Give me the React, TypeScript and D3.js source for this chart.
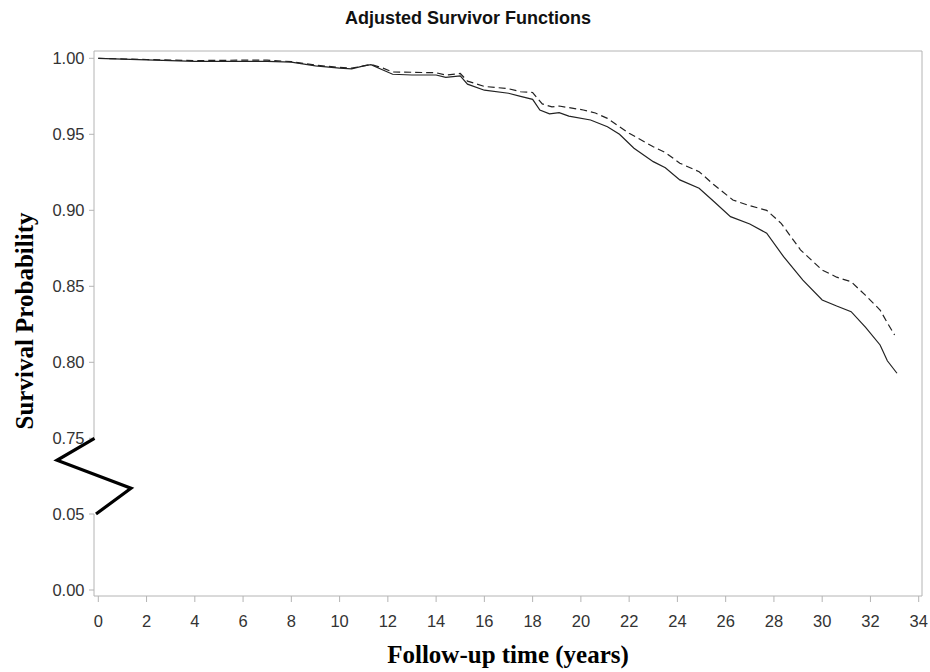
import React from "react";
import * as d3 from "d3";

const solidT = [0, 1, 2, 3, 4, 5, 6, 7, 8, 9, 10, 10.5, 11, 11.3, 11.7, 12.2, 13, 14, 14.4, 15, 15.3, 16, 17, 17.5, 18, 18.3, 18.7, 19.1, 19.5, 20.4, 21.1, 21.6, 22.2, 23.0, 23.5, 24.1, 24.9, 25.5, 26.2, 27.0, 27.7, 28.4, 29.2, 30.0, 30.6, 31.2, 31.8, 32.4, 32.7, 33.1];
const solidS = [1.0, 0.9995, 0.999, 0.9985, 0.998, 0.998, 0.998, 0.998, 0.9975, 0.995, 0.9935, 0.993, 0.995, 0.9958, 0.993, 0.9895, 0.989, 0.989, 0.9875, 0.9885, 0.983, 0.979, 0.977, 0.975, 0.973, 0.966, 0.9635, 0.9642, 0.962, 0.9594, 0.955, 0.95, 0.9408, 0.932, 0.928, 0.92, 0.9145, 0.906, 0.8958, 0.891, 0.8849, 0.8695, 0.854, 0.841, 0.837, 0.8333, 0.823, 0.8114, 0.801, 0.7928];

const dashT = [0, 2, 4, 6, 7, 8, 9, 10, 10.5, 11, 11.3, 11.8, 12.2, 13, 14, 14.4, 15, 15.3, 16, 17, 17.5, 18, 18.4, 18.8, 19.1, 20.1, 20.6, 21.1, 21.6, 22.0, 23.0, 23.5, 24.1, 24.9, 25.5, 26.3, 27.0, 27.7, 28.3, 29.1, 30.0, 30.6, 31.2, 31.8, 32.4, 32.7, 33.0];
const dashS = [1.0, 0.9992, 0.9985, 0.9988, 0.9988, 0.9978, 0.9955, 0.994, 0.9935, 0.995, 0.996, 0.9935, 0.991, 0.9908, 0.9905, 0.989, 0.99, 0.985, 0.9815, 0.98, 0.978, 0.9775, 0.97, 0.968, 0.9686, 0.966, 0.964, 0.9605, 0.955, 0.9507, 0.9418, 0.938, 0.931, 0.9254, 0.917, 0.9068, 0.903, 0.9, 0.8914, 0.874, 0.8607, 0.856, 0.853, 0.844, 0.8344, 0.826, 0.818];

const xTicks = [0, 2, 4, 6, 8, 10, 12, 14, 16, 18, 20, 22, 24, 26, 28, 30, 32, 34];
const yTicks = [0, 0.05, 0.75, 0.8, 0.85, 0.9, 0.95, 1.0];
const yTickLabels = ["0.00", "0.05", "0.75", "0.80", "0.85", "0.90", "0.95", "1.00"];

const W = 930, H = 672;
const frame = { left: 94, right: 922, top: 51, bottom: 596 };

export default function App() {
  const x = d3.scaleLinear().domain([0, 34]).range([98.3, 918.7]);
  const y = d3.scaleLinear().domain([0, 0.05, 0.75, 1.0]).range([590, 514, 438.3, 58.3]);
  const line = d3.line<[number, number]>().x(d => x(d[0])).y(d => y(d[1]));
  const solidPts = solidT.map((t, i) => [t, solidS[i]] as [number, number]);
  const dashPts = dashT.map((t, i) => [t, dashS[i]] as [number, number]);
  const yTop = y(0.75), yBot = y(0.05);
  const brk: [number, number][] = [
    [frame.left + 0.5, yTop],
    [frame.left - 37, yTop + (yBot - yTop) * 0.29],
    [frame.left + 37, yTop + (yBot - yTop) * 0.66],
    [frame.left + 2, yBot],
  ];
  const tickFont = "'Liberation Sans', Arial, sans-serif";
  const serif = "'Liberation Serif', 'Times New Roman', serif";
  const axisColor = "#b4b4b4";
  return (
    <svg width={W} height={H} style={{ display: "block", position: "absolute", left: 0, top: 0, background: "#fff" }}>
      <rect x={0} y={0} width={W} height={H} fill="#fff" />
      <text x={468} y={24} textAnchor="middle" fontFamily={tickFont} fontWeight="bold" fontSize={18} fill="#111">Adjusted Survivor Functions</text>
      {/* frame */}
      <line x1={frame.left} x2={frame.right} y1={frame.top} y2={frame.top} stroke={axisColor} />
      <line x1={frame.right} x2={frame.right} y1={frame.top} y2={frame.bottom} stroke={axisColor} />
      <line x1={frame.left} x2={frame.right} y1={frame.bottom} y2={frame.bottom} stroke={axisColor} />
      <line x1={frame.left} x2={frame.left} y1={frame.top} y2={yTop} stroke={axisColor} />
      <line x1={frame.left} x2={frame.left} y1={yBot} y2={frame.bottom} stroke={axisColor} />
      {/* y ticks */}
      {yTicks.map((v, i) => (
        <g key={"y" + i}>
          <line x1={frame.left - 5} x2={frame.left} y1={y(v)} y2={y(v)} stroke={axisColor} />
          <text x={84.5} y={y(v)} dy="0.36em" textAnchor="end" fontFamily={tickFont} fontSize={16.5} fill="#333">{yTickLabels[i]}</text>
        </g>
      ))}
      {/* x ticks */}
      {xTicks.map(t => (
        <g key={"x" + t}>
          <line x1={x(t)} x2={x(t)} y1={frame.bottom} y2={frame.bottom + 6} stroke={axisColor} />
          <text x={x(t)} y={627} textAnchor="middle" fontFamily={tickFont} fontSize={16.5} fill="#333">{t}</text>
        </g>
      ))}
      {/* break */}
      <path d={d3.line()(brk) || ""} fill="none" stroke="#000" strokeWidth={3.2} />
      {/* curves */}
      <path d={line(dashPts) || ""} fill="none" stroke="#222" strokeWidth={1.2} strokeDasharray="7,4" />
      <path d={line(solidPts) || ""} fill="none" stroke="#222" strokeWidth={1.2} />
      {/* axis labels */}
      <text x={508} y={663} textAnchor="middle" fontFamily={serif} fontWeight="bold" fontSize={25} fill="#000">Follow-up time (years)</text>
      <text transform={`translate(32.5, 321) rotate(-90)`} textAnchor="middle" fontFamily={serif} fontWeight="bold" fontSize={25} fill="#000">Survival Probability</text>
    </svg>
  );
}
